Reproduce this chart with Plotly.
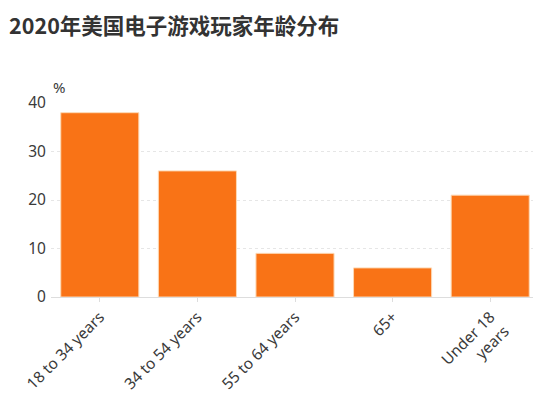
import plotly.graph_objects as go

categories = ["18 to 34 years", "34 to 54 years", "55 to 64 years", "65+", "Under 18<br>years"]
values = [38, 26, 9, 6, 21]

fig = go.Figure(go.Bar(x=categories, y=values,
                       marker=dict(color="#F97316", line=dict(color="#FDD9B5", width=1))))

# page body has an 8px margin, so the figure is offset; margins compensate
fig.update_layout(
    width=541, height=400,
    margin=dict(l=43, r=10, t=95, b=111),
    paper_bgcolor="white", plot_bgcolor="white",
    bargap=0.2,
    showlegend=False,
    font=dict(family="Noto Sans, sans-serif", size=15, color="#3a3a3a"),
    title=dict(text="<b>2020年美国电子游戏玩家年龄分布</b>", x=0.002, xanchor="left",
               y=0.955, yanchor="middle",
               font=dict(family="Noto Sans CJK SC", size=21.5, color="#333")),
)
fig.update_xaxes(tickangle=-45, showline=True, linecolor="#ddd", ticks="outside",
                 tickcolor="#ddd", ticklen=4, automargin=False,
                 tickfont=dict(size=15.5, color="#3a3a3a"))
fig.update_yaxes(range=[0, 40], dtick=10, showgrid=True, gridcolor="#e6e6e6",
                 griddash="dot", zeroline=False, automargin=False,
                 tickfont=dict(size=15.5, color="#3a3a3a"), ticksuffix=" ")
fig.add_annotation(text="%", xref="paper", yref="paper", x=0.0, y=1.02,
                   xanchor="left", yanchor="bottom", showarrow=False,
                   font=dict(size=15, color="#3a3a3a"))

fig.write_html("out.html")
